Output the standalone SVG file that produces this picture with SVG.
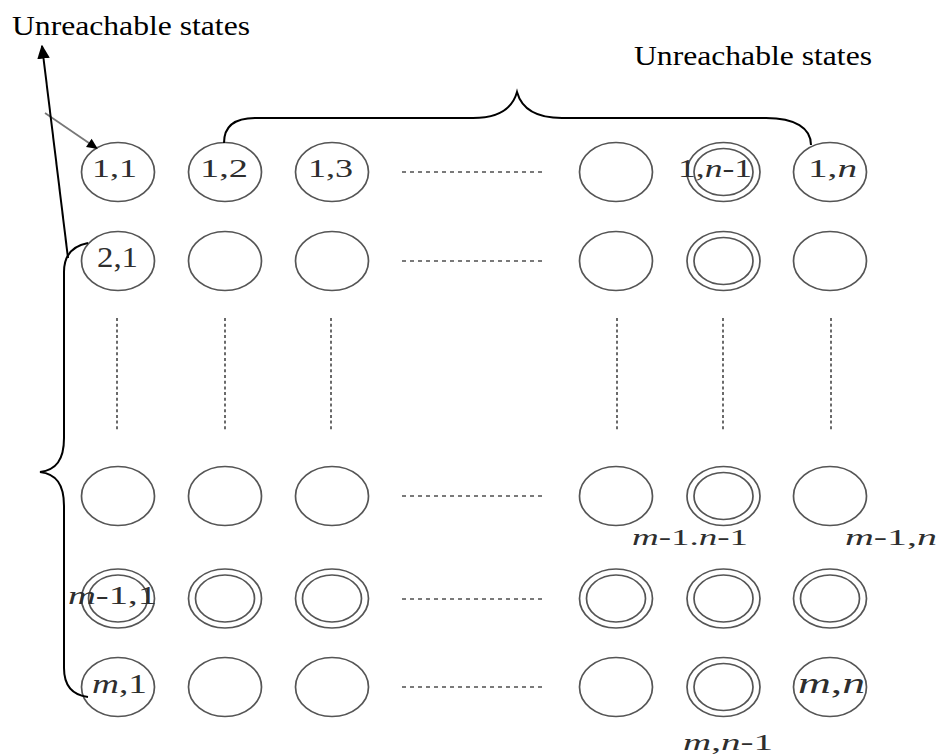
<svg xmlns="http://www.w3.org/2000/svg" width="941" height="755" viewBox="0 0 941 755">
  <style>
    .st { fill: none; stroke: #555; stroke-width: 1.7; }
    .lbl { font-family: "Liberation Serif", "Times New Roman", serif; fill: #2e2e2e; }
    .lbl tspan.v { font-style: italic; }
    .note { font-family: "Liberation Serif", "Times New Roman", serif; font-size: 27px; fill: #000; }
    .hdots { stroke: #7a7a7a; stroke-width: 2; stroke-dasharray: 4 4; fill: none; }
    .vdots { stroke: #6a6a6a; stroke-width: 2; stroke-dasharray: 3 2.7; fill: none; }
    .brace { fill: none; stroke: #000; stroke-width: 2; }
    .ptr { fill: none; stroke: #000; stroke-width: 2; }
  </style>
  <defs>
    <!-- single state: plain ellipse -->
    <ellipse id="s" cx="0" cy="0" rx="36.5" ry="29.5" class="st"/>
    <!-- accepting state: double ellipse -->
    <g id="d">
      <ellipse cx="0" cy="0" rx="36.5" ry="29.5" class="st"/>
      <ellipse cx="0" cy="0" rx="29.5" ry="23.5" class="st"/>
    </g>
    <marker id="head" viewBox="0 0 10 10" refX="9" refY="5" markerWidth="14" markerHeight="14" markerUnits="userSpaceOnUse" orient="auto">
      <path d="M0,0.5 L10,5 L0,9.5 z" fill="#000"/>
    </marker>
    <marker id="headSm" viewBox="0 0 10 10" refX="9" refY="5" markerWidth="12" markerHeight="11" markerUnits="userSpaceOnUse" orient="auto">
      <path d="M0,0.5 L10,5 L0,9.5 z" fill="#000"/>
    </marker>
  </defs>

  <rect x="0" y="0" width="941" height="755" fill="#fff"/>

  <!-- annotations -->
  <text class="note" x="12" y="35" textLength="238" lengthAdjust="spacingAndGlyphs">Unreachable states</text>
  <text class="note" x="634" y="65" textLength="238" lengthAdjust="spacingAndGlyphs">Unreachable states</text>

  <!-- row 1 -->
  <g id="q1_1"><use href="#s" x="118" y="172"/>
    <text class="lbl" x="92" y="177" font-size="25" textLength="45" lengthAdjust="spacingAndGlyphs">1,1</text></g>
  <g id="q1_2"><use href="#s" x="225" y="172"/>
    <text class="lbl" x="200" y="177" font-size="25" textLength="48" lengthAdjust="spacingAndGlyphs">1,2</text></g>
  <g id="q1_3"><use href="#s" x="332" y="172"/>
    <text class="lbl" x="308" y="177" font-size="25" textLength="45" lengthAdjust="spacingAndGlyphs">1,3</text></g>
  <g id="q1_k"><use href="#s" x="616" y="172"/></g>
  <g id="q1_n1"><use href="#d" x="723.5" y="172"/>
    <text class="lbl" x="678" y="177" font-size="25" textLength="74" lengthAdjust="spacingAndGlyphs">1,<tspan class="v">n</tspan>-1</text></g>
  <g id="q1_n"><use href="#s" x="830" y="172"/>
    <text class="lbl" x="808" y="177" font-size="25" textLength="49" lengthAdjust="spacingAndGlyphs">1,<tspan class="v">n</tspan></text></g>

  <!-- row 2 -->
  <g id="q2_1"><use href="#s" x="118" y="261"/>
    <text class="lbl" x="97" y="267" font-size="29" textLength="41" lengthAdjust="spacingAndGlyphs">2,1</text></g>
  <g id="q2_2"><use href="#s" x="225" y="261"/></g>
  <g id="q2_3"><use href="#s" x="332" y="261"/></g>
  <g id="q2_k"><use href="#s" x="616" y="261"/></g>
  <g id="q2_n1"><use href="#d" x="723.5" y="261"/></g>
  <g id="q2_n"><use href="#s" x="830" y="261"/></g>

  <!-- row m-2 -->
  <g id="qa_1"><use href="#s" x="118" y="496"/></g>
  <g id="qa_2"><use href="#s" x="225" y="496"/></g>
  <g id="qa_3"><use href="#s" x="332" y="496"/></g>
  <g id="qa_k"><use href="#s" x="616" y="496"/></g>
  <g id="qa_n1"><use href="#d" x="723.5" y="496"/>
    <text class="lbl" x="632" y="545" font-size="24" textLength="116" lengthAdjust="spacingAndGlyphs"><tspan class="v">m</tspan>-1.<tspan class="v">n</tspan>-1</text></g>
  <g id="qa_n"><use href="#s" x="830" y="496"/>
    <text class="lbl" x="845" y="545" font-size="24" textLength="92" lengthAdjust="spacingAndGlyphs"><tspan class="v">m</tspan>-1,<tspan class="v">n</tspan></text></g>

  <!-- row m-1 -->
  <g id="qb_1"><use href="#d" x="118" y="598.5"/>
    <text class="lbl" x="68" y="604" font-size="25" textLength="89" lengthAdjust="spacingAndGlyphs"><tspan class="v">m</tspan>-1,1</text></g>
  <g id="qb_2"><use href="#d" x="225" y="598.5"/></g>
  <g id="qb_3"><use href="#d" x="332" y="598.5"/></g>
  <g id="qb_k"><use href="#d" x="616" y="598.5"/></g>
  <g id="qb_n1"><use href="#d" x="723.5" y="598.5"/></g>
  <g id="qb_n"><use href="#d" x="830" y="598.5"/></g>

  <!-- row m -->
  <g id="qm_1"><use href="#s" x="118" y="687"/>
    <text class="lbl" x="92" y="693" font-size="27" textLength="55" lengthAdjust="spacingAndGlyphs"><tspan class="v">m</tspan>,1</text></g>
  <g id="qm_2"><use href="#s" x="225" y="687"/></g>
  <g id="qm_3"><use href="#s" x="332" y="687"/></g>
  <g id="qm_k"><use href="#s" x="616" y="687"/></g>
  <g id="qm_n1"><use href="#d" x="723.5" y="687"/>
    <text class="lbl" x="683" y="750" font-size="24" textLength="90" lengthAdjust="spacingAndGlyphs"><tspan class="v">m</tspan>,<tspan class="v">n</tspan>-1</text></g>
  <g id="qm_n"><use href="#s" x="830" y="687"/>
    <text class="lbl" x="798" y="693" font-size="29" textLength="67" lengthAdjust="spacingAndGlyphs"><tspan class="v">m</tspan>,<tspan class="v">n</tspan></text></g>

  <!-- ellipsis rows and columns -->
  <g id="ellipses">
    <line class="hdots" x1="402" y1="172" x2="542" y2="172"/>
    <line class="hdots" x1="402" y1="261" x2="542" y2="261"/>
    <line class="hdots" x1="402" y1="496" x2="542" y2="496"/>
    <line class="hdots" x1="402" y1="599" x2="542" y2="599"/>
    <line class="hdots" x1="402" y1="687" x2="542" y2="687"/>
    <line class="vdots" x1="117" y1="318" x2="117" y2="432"/>
    <line class="vdots" x1="225" y1="318" x2="225" y2="432"/>
    <line class="vdots" x1="331" y1="318" x2="331" y2="432"/>
    <line class="vdots" x1="617" y1="318" x2="617" y2="432"/>
    <line class="vdots" x1="723" y1="318" x2="723" y2="432"/>
    <line class="vdots" x1="831" y1="318" x2="831" y2="432"/>
  </g>

  <!-- connectors: start arrow, pointer arrow and grouping braces -->
  <g id="connectors">
    <line x1="45" y1="113" x2="97" y2="148.5" stroke="#777" stroke-width="1.8" marker-end="url(#headSm)"/>
    <line class="ptr" x1="68" y1="258" x2="42" y2="46" marker-end="url(#head)"/>
    <path class="brace" d="M224,143 C224,128 233,118 255,118 L473,118 C497,118 512,110 517,92 C522,110 537,118 562,118 L766,118 C795,118 811,128 811,145"/>
    <path class="brace" d="M88,243 C72,246 64,256 64,272 L64,438 C64,460 56,470 40,472 C56,474 64,484 64,506 L64,668 C64,686 72,695 88,697"/>
  </g>
</svg>
